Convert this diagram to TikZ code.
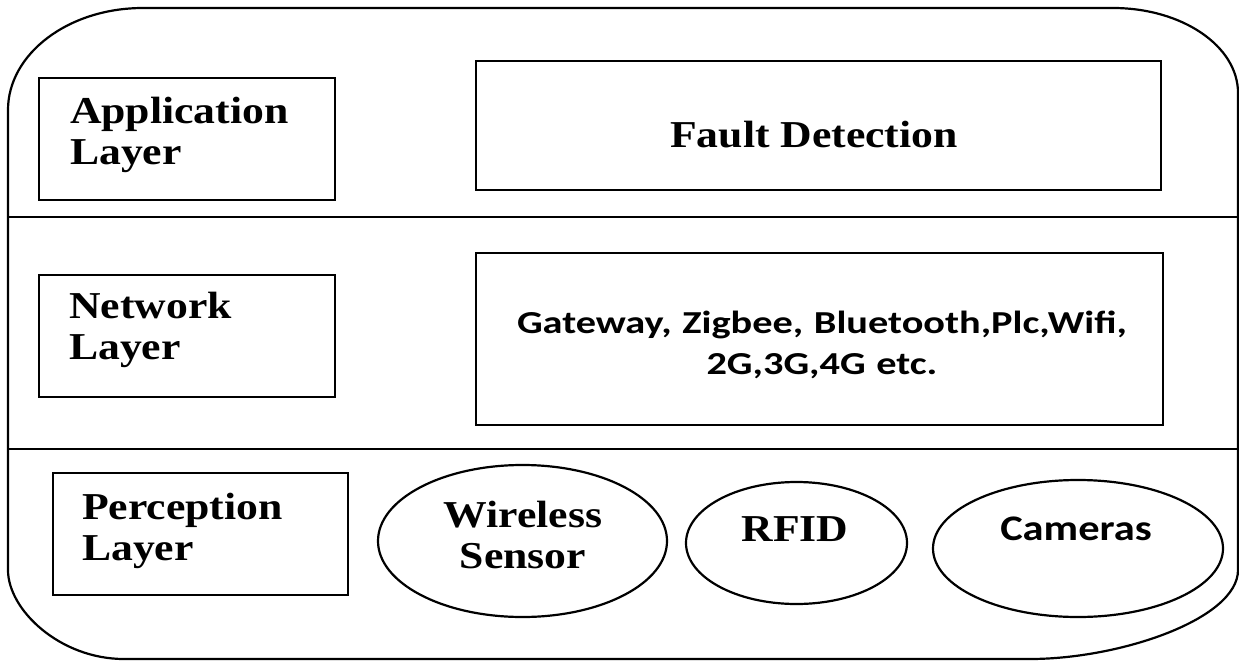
\documentclass[tikz,border=0pt]{standalone}
\usepackage{fontspec}
\usetikzlibrary{shapes.geometric}
\newfontfamily\tnr[FakeStretch=1.15]{Liberation Serif}
\newfontfamily\calA[FakeStretch=1.26]{Carlito}
\newfontfamily\calB[FakeStretch=1.18]{Carlito}
\begin{document}
\begin{tikzpicture}[x=1pt,y=-1pt,
  every path/.style={line width=2.2pt},
  outer/.style={draw, line width=2.2pt},
  box/.style={draw, rectangle, inner sep=0pt, line width=2.2pt},
  oval/.style={draw, ellipse, inner sep=0pt, line width=2.2pt},
  serif/.style={font=\tnr\bfseries\fontsize{38}{41}\selectfont, inner sep=0pt},
  lbl/.style={serif, text width=260pt, align=left, anchor=base west},
  sans/.style={font=\calA\bfseries\fontsize{32}{41}\selectfont, inner sep=0pt},
  sansb/.style={font=\calB\bfseries\fontsize{36}{40}\selectfont, inner sep=0pt}]
\useasboundingbox (0,0) rectangle (1239,661);
% outer frame
\draw[outer] (8,110) .. controls (8,54) and (68,8) .. (143,8) -- (1113,8)
  .. controls (1182,8) and (1238,46) .. (1238,93) -- (1238,570)
  .. controls (1238,619) and (1120,659) .. (1030,659) -- (124,659)
  .. controls (60,659) and (8,610) .. (8,570) -- cycle;
% dividers
\draw (8,217) -- (1238,217);
\draw (8,449) -- (1238,449);
% boxes
\node[box, minimum width=296pt, minimum height=122pt] (appbox) at (187,139) {};
\node[box, minimum width=685pt, minimum height=129pt] (fault) at (818.5,125.5) {};
\node[box, minimum width=296pt, minimum height=122pt] (netbox) at (187,336) {};
\node[box, minimum width=687pt, minimum height=172pt] (netlist) at (819.5,339) {};
\node[box, minimum width=295pt, minimum height=122pt] (perbox) at (200.5,534) {};
\node[oval, minimum width=289pt, minimum height=152pt] (wireless) at (522.5,541) {};
\node[oval, minimum width=221pt, minimum height=122pt] (rfid) at (796.5,543) {};
\node[oval, minimum width=290pt, minimum height=137pt] (cameras) at (1078,548.5) {};
% texts
\node[lbl] (applbl) at (69,123) {Application\\Layer};
\node[lbl] (netlbl) at (68,318) {Network\\Layer};
\node[lbl] (perlbl) at (81,519) {Perception\\Layer};
\node[serif, anchor=base] (faulttxt) at (814,147) {Fault Detection};
\node[serif, text width=260pt, align=center, anchor=base] (wstxt) at (523,527) {Wireless\\Sensor};
\node[serif, anchor=base] (rfidtxt) at (795,541) {RFID};
\node[sans, text width=680pt, align=center, anchor=base] (nettxt) at (822,333) {Gateway, Zigbee, Bluetooth,Plc,Wifi,\\2G,3G,4G etc.};
\node[sansb, anchor=base] (camtxt) at (1076,540) {Cameras};
\end{tikzpicture}
\end{document}
